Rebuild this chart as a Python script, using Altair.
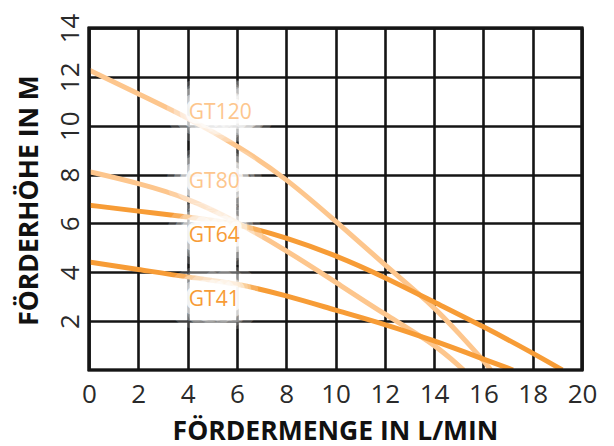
import altair as alt
import pandas as pd

# Curve data (Fördermenge L/min, Förderhöhe m)
gt120_x = [0, 2, 4, 6, 8, 10, 12, 14, 15, 16, 16.3]
gt120_y = [12.28, 11.3, 10.33, 9.2, 7.85, 6.1, 4.3, 2.6, 1.5, 0.4, 0.0]
gt80_x = [0, 2, 4, 6, 8, 10, 12, 14, 15.2]
gt80_y = [8.12, 7.65, 7.05, 6.07, 4.9, 3.6, 2.27, 1.08, 0.0]
gt64_x = [0, 2, 4, 6, 8, 10, 12, 14, 16, 18, 19.2]
gt64_y = [6.75, 6.5, 6.27, 6.0, 5.42, 4.7, 3.8, 2.78, 1.78, 0.7, 0.0]
gt41_x = [0, 2, 4, 6, 8, 10, 12, 14, 16, 17.2]
gt41_y = [4.42, 4.12, 3.8, 3.55, 3.05, 2.45, 1.88, 1.2, 0.45, 0.0]

labels = ["GT120", "GT80", "GT64", "GT41"]
label_x = [4.05, 4.05, 4.05, 4.05]
label_y = [10.52, 7.7, 5.49, 2.87]
light = "#FDC68D"
orange = "#F79C36"
label_colors = [light, light, orange, orange]

x_ticks = list(range(0, 21, 2))
y_ticks = list(range(2, 15, 2))

rows = []
for name, xs_, ys_ in [("GT120", gt120_x, gt120_y), ("GT80", gt80_x, gt80_y),
                       ("GT64", gt64_x, gt64_y), ("GT41", gt41_x, gt41_y)]:
    for i, (a, b) in enumerate(zip(xs_, ys_)):
        rows.append({"serie": name, "x": a, "y": b, "o": i})
df = pd.DataFrame(rows)
ldf = pd.DataFrame({"label": labels, "x": label_x, "y": label_y, "c": label_colors})

xs = alt.Scale(domain=[0, 20], nice=False, zero=False)
ys = alt.Scale(domain=[0, 14], nice=False, zero=False)

x_axis = alt.Axis(values=x_ticks, title="FÖRDERMENGE IN L/MIN", grid=True, ticks=False,
                  domain=False, labelFontSize=26, labelFont="Open Sans", labelFontWeight=400,
                  labelColor="#2a2a2a", labelPadding=11, labelFlush=False,
                  titleFontSize=26.5, titleFont="Open Sans",
                  titleFontWeight="bold", titleColor="#111", titleX=246, titleY=69,
                  titleAnchor="middle", titleBaseline="alphabetic",
                  gridColor="#151515", gridWidth=2.6, gridOpacity=1)
y_axis = alt.Axis(values=y_ticks, title="FÖRDERHÖHE IN M", grid=True, ticks=False,
                  domain=False, labelFontSize=26, labelFont="Open Sans", labelFontWeight=400,
                  labelColor="#2a2a2a", labelAngle=270, labelAlign="center",
                  labelBaseline="alphabetic", labelPadding=11, labelFlush=False,
                  titleFontSize=26.5, titleFont="Open Sans", titleFontWeight="bold",
                  titleColor="#111", titleX=-52, titleY=172, titleAngle=270,
                  titleAnchor="middle", titleBaseline="alphabetic",
                  gridColor="#151515", gridWidth=2.6, gridOpacity=1)

base_grid = alt.Chart(df).mark_point(opacity=0).encode(
    x=alt.X("x:Q", scale=xs, axis=x_axis),
    y=alt.Y("y:Q", scale=ys, axis=y_axis),
)

lines = alt.Chart(df).mark_line(strokeWidth=5, interpolate="basis", clip=True).encode(
    x=alt.X("x:Q", scale=xs),
    y=alt.Y("y:Q", scale=ys),
    order="o:Q",
    color=alt.Color("serie:N", scale=alt.Scale(domain=labels,
                    range=[light, light, orange, orange]), legend=None),
    detail="serie:N",
)

glows = []
for sw, op in [(46, 0.2), (32, 0.3), (20, 0.45), (9, 0.8)]:
    glows.append(alt.Chart(ldf).mark_text(
        align="left", baseline="middle", fontSize=21, font="Open Sans", fontWeight=500,
        stroke="white", strokeWidth=sw, strokeOpacity=op, strokeJoin="round",
        fill="white", fillOpacity=op).encode(
        x=alt.X("x:Q", scale=xs), y=alt.Y("y:Q", scale=ys), text="label:N"))

texts = alt.Chart(ldf).mark_text(
    align="left", baseline="middle", fontSize=21, font="Open Sans", fontWeight=500).encode(
    x=alt.X("x:Q", scale=xs), y=alt.Y("y:Q", scale=ys), text="label:N",
    color=alt.Color("c:N", scale=None))

border = alt.Chart(ldf).mark_rect(fill=None, stroke="#151515", strokeWidth=2.6).encode(
    x=alt.value(0), x2=alt.value(493), y=alt.value(0), y2=alt.value(342))

chart = alt.layer(base_grid, lines, *glows, texts, border).properties(
    width=493, height=342,
    autosize=alt.AutoSizeParams(type="none"),
    padding={"left": 81, "top": 20, "right": 20, "bottom": 78},
).configure_view(stroke=None).configure(background="white")

chart.save("out.html", embed_options={"renderer": "svg", "actions": False})
